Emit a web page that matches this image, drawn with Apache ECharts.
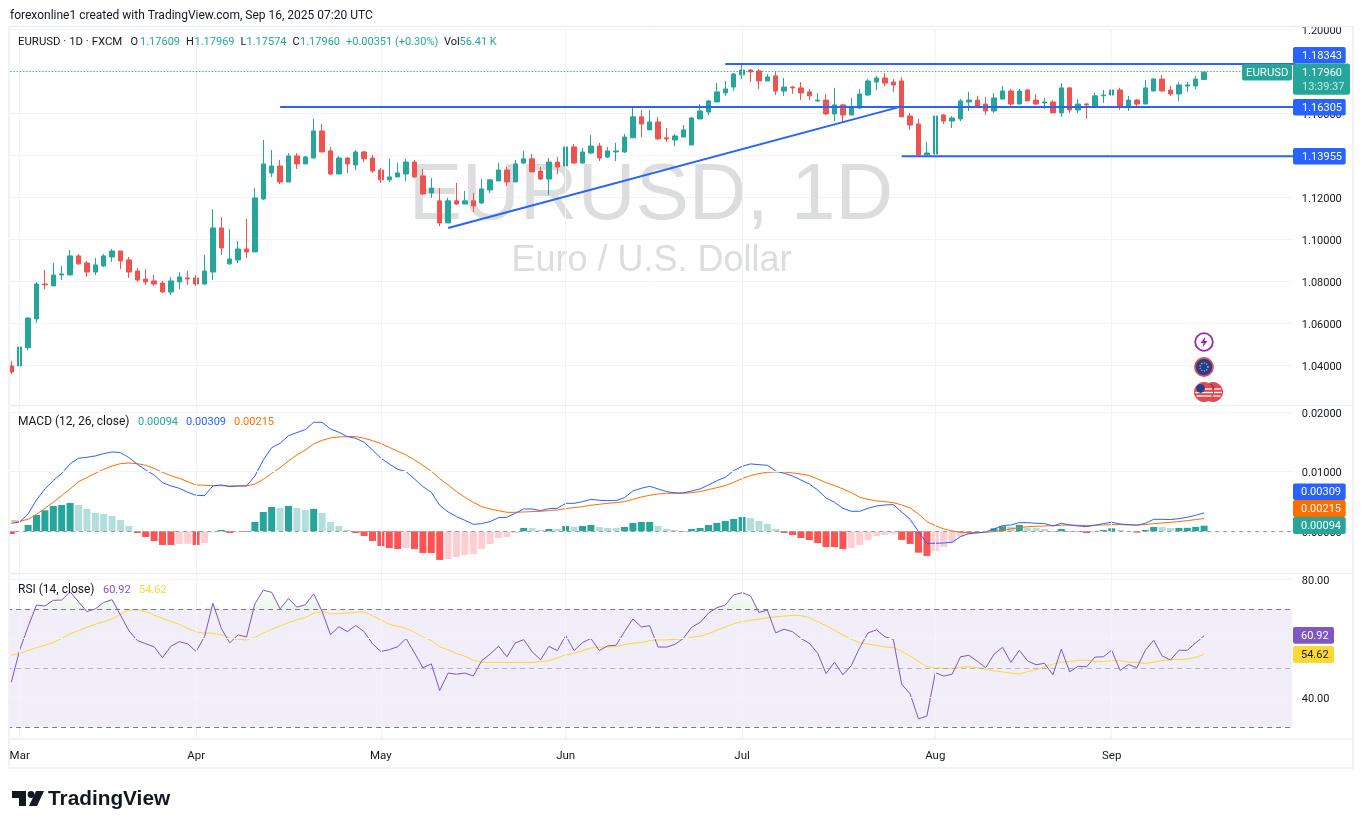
<!DOCTYPE html>
<html><head><meta charset="utf-8">
<style>html,body{margin:0;padding:0;background:#fff}#c{width:1364px;height:829px}</style>
<script src="https://cdn.jsdelivr.net/npm/echarts@6/dist/echarts.min.js"></script>
</head><body><div id="c"></div>
<script>
// open, close, low, high — one row per trading day, 28 Feb 2025 to 16 Sep 2025
const ohlc = [
[1.0397,1.0368,1.0359,1.0421],[1.0397,1.0487,1.0388,1.0506],[1.0483,1.0625,1.0473,1.0630],[1.0621,1.0787,1.0602,1.0797],
[1.0787,1.0783,1.0763,1.0854],[1.0778,1.0830,1.0778,1.0887],[1.0830,1.0835,1.0806,1.0873],[1.0830,1.0921,1.0830,1.0949],
[1.0921,1.0883,1.0878,1.0930],[1.0887,1.0844,1.0821,1.0897],[1.0844,1.0878,1.0830,1.0911],[1.0873,1.0921,1.0868,1.0930],
[1.0916,1.0944,1.0892,1.0954],[1.0944,1.0897,1.0859,1.0944],[1.0902,1.0844,1.0816,1.0916],[1.0849,1.0806,1.0797,1.0863],
[1.0811,1.0797,1.0783,1.0859],[1.0802,1.0787,1.0778,1.0830],[1.0792,1.0749,1.0744,1.0802],[1.0749,1.0802,1.0735,1.0821],
[1.0797,1.0821,1.0763,1.0844],[1.0816,1.0811,1.0783,1.0849],[1.0816,1.0787,1.0778,1.0830],[1.0787,1.0849,1.0783,1.0925],
[1.0844,1.1054,1.0806,1.1144],[1.1054,1.0959,1.0925,1.1106],[1.0883,1.0906,1.0878,1.1049],[1.0902,1.0954,1.0887,1.0992],
[1.0954,1.0940,1.0911,1.1097],[1.0940,1.1197,1.0940,1.1244],[1.1192,1.1359,1.1187,1.1473],[1.1316,1.1349,1.1297,1.1425],
[1.1349,1.1273,1.1263,1.1378],[1.1273,1.1397,1.1273,1.1411],[1.1397,1.1359,1.1335,1.1411],[1.1359,1.1392,1.1359,1.1397],
[1.1387,1.1516,1.1387,1.1573],[1.1516,1.1416,1.1416,1.1549],[1.1421,1.1311,1.1306,1.1440],[1.1311,1.1387,1.1311,1.1397],
[1.1387,1.1359,1.1316,1.1392],[1.1354,1.1416,1.1330,1.1425],[1.1416,1.1383,1.1368,1.1421],[1.1387,1.1325,1.1316,1.1402],
[1.1330,1.1283,1.1268,1.1340],[1.1283,1.1297,1.1273,1.1383],[1.1297,1.1316,1.1297,1.1363],[1.1311,1.1368,1.1278,1.1383],
[1.1368,1.1297,1.1292,1.1378],[1.1302,1.1216,1.1211,1.1335],[1.1221,1.1244,1.1197,1.1292],[1.1183,1.1078,1.1063,1.1244],
[1.1078,1.1183,1.1078,1.1197],[1.1183,1.1168,1.1163,1.1268],[1.1168,1.1183,1.1168,1.1230],[1.1183,1.1159,1.1130,1.1221],
[1.1173,1.1240,1.1168,1.1287],[1.1235,1.1283,1.1221,1.1287],[1.1278,1.1330,1.1278,1.1363],[1.1330,1.1273,1.1254,1.1344],
[1.1273,1.1359,1.1273,1.1378],[1.1363,1.1383,1.1359,1.1421],[1.1383,1.1321,1.1321,1.1406],[1.1325,1.1287,1.1283,1.1344],
[1.1287,1.1368,1.1211,1.1387],[1.1368,1.1344,1.1311,1.1392],[1.1349,1.1440,1.1344,1.1449],[1.1440,1.1363,1.1363,1.1454],
[1.1363,1.1416,1.1359,1.1435],[1.1411,1.1444,1.1406,1.1497],[1.1444,1.1387,1.1373,1.1459],[1.1392,1.1421,1.1387,1.1440],
[1.1416,1.1421,1.1373,1.1459],[1.1416,1.1487,1.1411,1.1502],[1.1483,1.1583,1.1483,1.1630],[1.1583,1.1549,1.1487,1.1616],
[1.1521,1.1559,1.1521,1.1616],[1.1559,1.1478,1.1473,1.1583],[1.1483,1.1478,1.1463,1.1530],[1.1473,1.1492,1.1444,1.1502],
[1.1487,1.1521,1.1487,1.1544],[1.1449,1.1578,1.1449,1.1583],[1.1573,1.1611,1.1573,1.1644],[1.1606,1.1659,1.1592,1.1663],
[1.1654,1.1702,1.1654,1.1744],[1.1697,1.1716,1.1683,1.1754],[1.1725,1.1787,1.1706,1.1792],[1.1783,1.1806,1.1763,1.1834],
[1.1806,1.1797,1.1749,1.1811],[1.1802,1.1754,1.1716,1.1811],[1.1754,1.1773,1.1754,1.1787],[1.1778,1.1706,1.1687,1.1797],
[1.1706,1.1725,1.1683,1.1768],[1.1725,1.1721,1.1692,1.1730],[1.1721,1.1697,1.1663,1.1749],[1.1702,1.1683,1.1663,1.1716],
[1.1659,1.1663,1.1654,1.1697],[1.1663,1.1597,1.1592,1.1692],[1.1597,1.1640,1.1563,1.1721],[1.1640,1.1592,1.1559,1.1644],
[1.1592,1.1625,1.1592,1.1673],[1.1625,1.1692,1.1621,1.1716],[1.1687,1.1754,1.1683,1.1763],[1.1749,1.1768,1.1711,1.1778],
[1.1768,1.1744,1.1730,1.1792],[1.1749,1.1735,1.1702,1.1763],[1.1754,1.1583,1.1583,1.1773],[1.1587,1.1544,1.1521,1.1602],
[1.1549,1.1402,1.1397,1.1573],[1.1402,1.1411,1.1402,1.1463],[1.1406,1.1587,1.1395,1.1597],[1.1592,1.1563,1.1549,1.1597],
[1.1563,1.1578,1.1530,1.1587],[1.1573,1.1659,1.1563,1.1668],[1.1654,1.1663,1.1611,1.1702],[1.1663,1.1635,1.1630,1.1683],
[1.1644,1.1611,1.1592,1.1678],[1.1611,1.1673,1.1602,1.1697],[1.1668,1.1706,1.1668,1.1730],[1.1706,1.1644,1.1630,1.1716],
[1.1644,1.1706,1.1644,1.1716],[1.1711,1.1659,1.1659,1.1716],[1.1663,1.1644,1.1640,1.1692],[1.1649,1.1654,1.1621,1.1673],
[1.1654,1.1602,1.1602,1.1663],[1.1602,1.1721,1.1583,1.1744],[1.1721,1.1616,1.1602,1.1725],[1.1616,1.1644,1.1602,1.1668],
[1.1644,1.1640,1.1573,1.1649],[1.1635,1.1683,1.1630,1.1697],[1.1683,1.1687,1.1649,1.1711],[1.1687,1.1711,1.1683,1.1740],
[1.1711,1.1635,1.1616,1.1721],[1.1630,1.1663,1.1611,1.1683],[1.1663,1.1644,1.1630,1.1668],[1.1644,1.1721,1.1644,1.1759],
[1.1706,1.1763,1.1706,1.1768],[1.1763,1.1706,1.1706,1.1783],[1.1711,1.1692,1.1683,1.1730],[1.1692,1.1735,1.1659,1.1749],
[1.1730,1.1735,1.1702,1.1749],[1.1730,1.1763,1.1716,1.1778],[1.17609,1.17960,1.17574,1.17969]];

// MACD pane values, in units of 0.00001
const macdE5 = [134,156,291,525,710,849,972,1129,1224,1240,1263,1302,1330,1319,1235,1123,1028,944,816,760,721,654,603,598,760,777,749,760,760,927,1196,1402,1475,1603,1654,1704,1827,1827,1715,1659,1587,1559,1492,1363,1224,1129,1039,1000,877,749,654,436,
324,246,184,117,129,162,229,235,302,374,374,346,380,385,469,469,497,536,520,514,514,564,676,721,754,710,665,643,643,676,710,777,849,905,1017,1089,1129,1117,1106,1011,972,927,860,793,693,559,486,385,335,335,385,425,441,
447,324,201,-6,-201,-201,-196,-184,-89,-39,-28,-11,39,95,106,145,145,134,129,89,134,106,89,78,101,129,151,123,112,101,134,201,201,196,212,235,268,309];
const signalE5 = [173,168,201,285,385,486,598,710,832,900,972,1039,1095,1134,1145,1134,1106,1056,989,933,888,832,777,771,765,765,760,760,760,793,872,972,1067,1179,1279,1363,1464,1525,1564,1581,1587,1587,1559,1520,1469,1408,1341,1279,1196,1106,1006,883,
777,665,570,486,413,374,346,318,318,324,330,335,346,358,380,397,413,436,453,469,480,497,536,575,603,626,637,637,637,648,665,698,732,765,821,883,933,967,989,994,994,978,961,933,877,816,765,710,648,570,536,508,497,
480,441,391,291,162,95,39,6,-17,-22,-22,-17,-6,17,39,61,78,84,89,95,101,106,101,95,101,106,112,112,106,106,112,129,140,151,162,179,196,215];
const histE5 = [-45,-6,106,274,352,425,441,475,441,374,307,291,257,190,89,-28,-95,-162,-229,-230,-212,-210,-229,-196,-17,22,-28,-11,-12,156,324,408,391,425,391,358,374,307,156,89,22,-28,-78,-162,-246,-279,-296,-279,-296,-363,-364,-480,
-464,-430,-397,-380,-296,-212,-112,-95,-28,56,55,22,39,38,89,73,89,106,73,56,55,73,140,156,157,89,39,22,-6,39,56,106,140,173,207,240,223,173,123,39,-28,-61,-112,-145,-196,-263,-264,-296,-279,-229,-145,-78,-61,-45,
-145,-212,-358,-413,-330,-263,-201,-89,-50,-22,-6,50,84,73,106,61,56,39,-6,39,-6,-7,-28,6,22,50,22,6,-22,22,73,72,56,57,58,73,94];

const rsi = [45.2,56.1,64.0,71.3,71.0,72.9,73.0,75.8,72.4,69.1,70.0,72.2,73.1,67.9,62.6,59.3,58.2,57.2,53.5,57.4,58.9,58.2,55.6,60.6,71.9,63.4,58.5,61.2,60.5,71.7,76.3,75.6,70.0,73.5,70.6,71.4,75.1,69.1,61.3,64.0,62.3,64.4,62.3,58.2,55.6,56.2,57.2,60.0,55.1,50.1,51.4,42.4,
48.3,47.9,48.3,47.3,52.5,54.7,57.4,53.8,58.5,59.6,55.5,52.8,57.3,55.9,61.0,55.9,58.6,60.0,55.9,57.5,57.7,62.3,66.6,63.9,64.3,57.1,57.1,58.0,60.0,63.8,65.4,68.6,70.4,71.3,74.7,75.5,74.4,68.8,69.6,61.9,63.1,62.3,60.0,58.4,55.0,48.1,52.0,47.7,50.8,56.9,61.9,62.9,60.6,59.7,
44.5,41.3,32.8,33.8,48.4,47.3,47.9,53.8,54.3,52.3,50.1,54.7,57.0,51.9,56.0,52.4,51.1,51.6,47.7,56.4,48.7,50.6,50.4,53.7,53.8,56.0,49.2,51.2,50.1,56.0,59.4,54.1,52.7,56.0,56.0,58.5,60.92];
const rsiMa = [54.3,55.0,55.9,56.9,57.7,58.6,60.0,61.6,62.6,63.8,64.8,65.7,66.6,68.2,69.6,69.7,69.1,67.9,66.8,65.7,64.8,63.4,62.2,61.8,61.8,61.2,60.2,59.7,59.5,60.4,61.8,63.1,64.2,65.4,66.3,67.1,68.5,69.1,68.3,68.4,68.6,68.8,69.0,67.7,66.2,64.8,64.1,63.4,62.1,60.5,59.3,57.2,
56.2,54.9,54.0,52.6,52.0,51.9,51.9,51.9,51.9,51.9,51.9,52.2,52.5,53.5,54.4,55.0,55.8,56.8,57.0,57.1,57.2,57.9,58.4,58.6,59.3,59.5,59.5,59.7,59.8,60.4,60.8,61.6,62.8,63.9,65.0,65.7,66.2,66.5,67.0,67.3,67.6,67.8,67.7,67.1,65.7,64.3,62.8,61.2,59.7,58.6,58.1,57.7,57.1,57.0,
55.6,54.1,52.2,50.5,50.0,49.9,49.8,50.3,50.4,50.1,49.6,49.0,48.7,48.3,48.0,48.8,49.5,50.4,51.3,52.0,52.2,52.6,52.6,52.3,52.2,52.5,52.5,52.0,51.9,51.5,52.0,52.5,52.8,52.9,53.0,53.6,54.62];

const monthStarts = [1,22,44,66,87,110,131];
const monthNames = ['Mar','Apr','May','Jun','Jul','Aug','Sep'];
const emptyDays = 10;
const lastIndex = ohlc.length + emptyDays; // one slot past the axis so the drawn lines run to the pane edge
// drawn lines: [fromIndex, fromPrice, toIndex, toPrice]
const drawnLines = [
  [32,1.16305,lastIndex,1.16305],
  [85,1.18343,lastIndex,1.18343],
  [106,1.13955,lastIndex,1.13955],
  [52,1.1054,106,1.1633]
];
const priceTicks = {min:1.02,max:1.20,interval:0.02};
const lastPrice = 1.1796;
const rsiUpper = 70, rsiMiddle = 50, rsiLower = 30;

const FONT = 'Roboto';
const INK = '#131722', GRID = '#f0f3fa', UP = '#26a69a', DOWN = '#ef5350';
const BLUE = '#2962ff', ORANGE = '#ff6d00', PURPLE = '#7e57c2', YELLOW = '#fdd835';

const categories = ohlc.map((_, i) => 'd' + i);
for (let i = 0; i < emptyDays; i++) categories.push('e' + i);
const labelOf = {};
monthStarts.forEach((s, k) => labelOf['d' + s] = monthNames[k]);
const monthLines = monthStarts.map(s => ({xAxis: 'd' + s}));

const histColors = histE5.map((v, i) => {
  const prev = i ? histE5[i - 1] : 0;
  if (v >= 0) return v > prev ? '#26a69a' : '#b2dfdb';
  return v < prev ? '#ff5252' : '#ffcdd2';
});

const GL = 7.1, STEP = 8.4, W = STEP * categories.length;
const grids = [
  {left: GL, width: W, top: 29.3, height: 378},
  {left: GL, width: W, top: 405.7, height: 167.6},
  {left: GL, width: W, top: 573.4, height: 165.6}
];
const xAxes = [0, 1, 2].map(g => ({
  type: 'category', gridIndex: g, data: categories, boundaryGap: true,
  axisLine: {show: false}, axisTick: {show: false}, splitLine: {show: false},
  axisLabel: g === 2 ? {
    show: true, interval: (i, n) => n in labelOf, formatter: n => labelOf[n] || '',
    color: INK, fontFamily: FONT, fontSize: 11.5, margin: 11
  } : {show: false}
}));
const yLabel = (d) => ({color: INK, fontFamily: FONT, fontSize: 11, margin: 9.5, verticalAlign: 'top', lineHeight: 4, formatter: v => v.toFixed(d)});
const yAxes = [
  {type: 'value', gridIndex: 0, position: 'right', min: priceTicks.min, max: priceTicks.max, interval: priceTicks.interval,
   axisLine: {show: false}, axisTick: {show: false}, splitLine: {show: true, showMinLine: false, lineStyle: {color: GRID, width: 1}},
   axisLabel: Object.assign(yLabel(5), {showMinLabel: false})},
  {type: 'value', gridIndex: 1, position: 'right', min: -0.00704, max: 0.02105,
   axisLine: {show: false}, axisTick: {show: false}, splitLine: {show: false},
   axisLabel: Object.assign(yLabel(5), {customValues: [0, 0.01, 0.02]})},
  {type: 'value', gridIndex: 2, position: 'right', min: 26, max: 82,
   axisLine: {show: false}, axisTick: {show: false}, splitLine: {show: false},
   axisLabel: Object.assign(yLabel(2), {customValues: [40, 80]})}
];
const ml = (data, lineStyle) => ({silent: true, symbol: 'none', label: {show: false}, animation: false, data, lineStyle});
const gl = {color: GRID, width: 1, type: 'solid', opacity: 1};

const series = [
  {type: 'line', xAxisIndex: 0, yAxisIndex: 0, data: [], z: 1, markLine: ml(monthLines, gl)},
  {type: 'line', xAxisIndex: 1, yAxisIndex: 1, data: [], z: 1,
   markLine: ml(monthLines.concat([{yAxis: 0.01}, {yAxis: 0.02}]), gl)},
  {type: 'line', xAxisIndex: 2, yAxisIndex: 2, data: [], z: 1,
   markLine: ml(monthLines.concat([{yAxis: 40}, {yAxis: 60}, {yAxis: 80}]), gl)},
  {type: 'candlestick', xAxisIndex: 0, yAxisIndex: 0, data: ohlc, barWidth: 5, z: 3,
   itemStyle: {color: UP, color0: DOWN, borderColor: UP, borderColor0: DOWN, borderWidth: 1},
   markLine: ml([{yAxis: lastPrice}], {color: '#26a69a', width: 1.2, type: [1.2, 2], opacity: 1})},
  ...drawnLines.map(l => ({type: 'line', xAxisIndex: 0, yAxisIndex: 0, z: 5, showSymbol: false, symbol: 'none', silent: true,
    data: [[l[0], l[1]], [l[2], l[3]]], lineStyle: {color: BLUE, width: 2}})),
  {type: 'bar', xAxisIndex: 1, yAxisIndex: 1, barWidth: 7, z: 2,
   data: histE5.map((v, i) => ({value: v / 1e5, itemStyle: {color: histColors[i]}})),
   markLine: ml([{yAxis: 0}], {color: '#9a9ca3', width: 1, type: [4, 4], opacity: 1})},
  {type: 'line', xAxisIndex: 1, yAxisIndex: 1, z: 3, showSymbol: false, symbol: 'none', silent: true,
   data: signalE5.map(v => v / 1e5), lineStyle: {color: ORANGE, width: 1}},
  {type: 'line', xAxisIndex: 1, yAxisIndex: 1, z: 4, showSymbol: false, symbol: 'none', silent: true,
   data: macdE5.map(v => v / 1e5), lineStyle: {color: BLUE, width: 1}},
  {type: 'line', xAxisIndex: 2, yAxisIndex: 2, data: [], z: 0, silent: true,
   markArea: {silent: true, itemStyle: {color: 'rgba(126,87,194,0.1)'}, data: [[{yAxis: rsiUpper}, {yAxis: rsiLower}]]},
   markLine: ml([{yAxis: rsiUpper}, {yAxis: rsiLower}], {color: '#787b86', width: 1, type: [5, 4], opacity: 1})},
  {type: 'line', xAxisIndex: 2, yAxisIndex: 2, data: [], z: 1, silent: true,
   markLine: ml([{yAxis: rsiMiddle}], {color: '#787b86', width: 1, type: [5, 4], opacity: 0.5})},
  // soft green fill where RSI rises above the upper band
  {type: 'line', xAxisIndex: 2, yAxisIndex: 2, z: 2, showSymbol: false, symbol: 'none', silent: true,
   data: rsi.map(v => Math.max(v, rsiUpper)), lineStyle: {width: 0},
   areaStyle: {origin: rsiUpper, color: new echarts.graphic.LinearGradient(0, 0, 0, 1, [
     {offset: 0, color: 'rgba(76,175,80,0.02)'}, {offset: 1, color: 'rgba(76,175,80,0.16)'}])}},
  {type: 'line', xAxisIndex: 2, yAxisIndex: 2, z: 3, showSymbol: false, symbol: 'none', silent: true,
   data: rsiMa, lineStyle: {color: YELLOW, width: 1}},
  {type: 'line', xAxisIndex: 2, yAxisIndex: 2, z: 4, showSymbol: false, symbol: 'none', silent: true,
   data: rsi, lineStyle: {color: PURPLE, width: 1}}
];

const txt = (x, y, text, fill, o) => ({type: 'text', x, y: y + 0.8, z: 60, silent: true,
  style: Object.assign({text, fill, font: `11px ${FONT}`, textAlign: 'left', textVerticalAlign: 'middle'}, o || {})});
const big = {font: `12px ${FONT}`};
const mid = {font: `11.4px ${FONT}`};
const tag = (x, y, w, h, fill) => ({type: 'rect', x, y, z: 55, silent: true, shape: {x: 0, y: 0, width: w, height: h, r: 2}, style: {fill}});
const hline = (y) => ({type: 'line', z: 45, silent: true, shape: {x1: 10, y1: y, x2: 1353, y2: y}, style: {stroke: '#eceef3', lineWidth: 1.5}});

const graphics = [
  {type: 'text', x: 651, y: 197, z: 1, silent: true, style: {text: 'EURUSD, 1D', fill: '#dcddde', font: '80px "Liberation Sans"', textAlign: 'center', textVerticalAlign: 'middle'}},
  {type: 'text', x: 651.5, y: 261, z: 1, silent: true, style: {text: 'Euro / U.S. Dollar', fill: '#dcddde', font: '36px "Liberation Sans"', textAlign: 'center', textVerticalAlign: 'middle'}},
  // margins outside the panes
  {type: 'rect', z: 40, silent: true, shape: {x: 0, y: 0, width: 9.5, height: 829}, style: {fill: '#fff'}},
  {type: 'rect', z: 41, silent: true, shape: {x: 9, y: 26.5, width: 1344, height: 741.5}, style: {fill: 'none', stroke: '#eceef3', lineWidth: 1.5}},
  hline(405.5), hline(573.5), hline(739),
  // header
  txt(10, 15, 'forexonline1 created with TradingView.com, Sep 16, 2025 07:20 UTC', INK, big),
  txt(18, 41, 'EURUSD · 1D · FXCM', INK, mid),
  txt(130.5, 41, 'O', INK), txt(140, 41, '1.17609', UP),
  txt(186, 41, 'H', INK), txt(194.5, 41, '1.17969', UP),
  txt(240.5, 41, 'L', INK), txt(246.5, 41, '1.17574', UP),
  txt(292.5, 41, 'C', INK), txt(300, 41, '1.17960', UP),
  txt(346, 41, '+0.00351 (+0.30%)', UP),
  txt(444, 41, 'Vol', INK), txt(459.5, 41, '56.41 K', UP),
  // pane legends
  txt(18, 421, 'MACD (12, 26, close)', INK, big),
  txt(138, 421, '0.00094', UP), txt(186, 421, '0.00309', BLUE), txt(234, 421, '0.00215', ORANGE),
  txt(18, 589, 'RSI (14, close)', INK, big),
  txt(103, 589, '60.92', PURPLE), txt(139, 589, '54.62', YELLOW),
  // price tags
  tag(1293, 47, 52.7, 16.4, BLUE), txt(1302, 55.3, '1.18343', '#fff'),
  tag(1293, 63.4, 57, 31.4, UP), txt(1302, 72.5, '1.17960', '#fff'), txt(1302, 86.3, '13:39:37', '#c5e8e3'),
  tag(1242, 64, 50, 16.4, UP), txt(1246, 72.2, 'EURUSD', '#fff', mid),
  tag(1293, 99, 52.7, 16.6, BLUE), txt(1302, 107.4, '1.16305', '#fff'),
  tag(1293, 148, 52.7, 16.6, BLUE), txt(1302, 156.4, '1.13955', '#fff'),
  tag(1293, 483.4, 52.7, 16.6, BLUE), txt(1301, 491.7, '0.00309', '#fff'),
  tag(1293, 500, 52.7, 17, ORANGE), txt(1301, 508.5, '0.00215', '#fff'),
  tag(1293, 517, 52.7, 17, UP), txt(1301, 525.5, '0.00094', '#fff'),
  tag(1293, 627, 41, 16.7, PURPLE), txt(1301, 635.4, '60.92', '#fff'),
  tag(1293, 646, 41, 17, YELLOW), txt(1301, 654.5, '54.62', INK),
  // event icons
  {type: 'circle', z: 50, silent: true, shape: {cx: 1204, cy: 342, r: 8.8}, style: {fill: '#fff', stroke: '#9c27b0', lineWidth: 1.8}},
  {type: 'polygon', z: 51, silent: true, shape: {points: [[1205.5, 336.5], [1200.5, 343], [1203.6, 343], [1202.5, 347.5], [1207.5, 341], [1204.4, 341]]}, style: {fill: '#9c27b0'}},
  {type: 'circle', z: 50, silent: true, shape: {cx: 1204, cy: 367, r: 9}, style: {fill: '#1f3f94', stroke: '#e5484d', lineWidth: 1.8}},
  {type: 'circle', z: 51, silent: true, shape: {cx: 1204, cy: 367, r: 4}, style: {fill: 'none', stroke: '#ffd54f', lineWidth: 1.2, lineDash: [1, 1.6]}},
  ...[1213, 1204].flatMap((cx, k) => [
    {type: 'circle', z: 50 + k * 2, silent: true, shape: {cx, cy: 392, r: 9.6}, style: {fill: '#e5484d', stroke: '#e5484d', lineWidth: 1}},
    {type: 'line', z: 50 + k * 2, silent: true, shape: {x1: cx - 8, y1: 389, x2: cx + 8, y2: 389}, style: {stroke: '#fff', lineWidth: 1.3}},
    {type: 'line', z: 50 + k * 2, silent: true, shape: {x1: cx - 9, y1: 392.5, x2: cx + 9, y2: 392.5}, style: {stroke: '#fff', lineWidth: 1.3}},
    {type: 'line', z: 50 + k * 2, silent: true, shape: {x1: cx - 7.5, y1: 396, x2: cx + 7.5, y2: 396}, style: {stroke: '#fff', lineWidth: 1.3}},
    {type: 'circle', z: 50 + k * 2, silent: true, shape: {cx: cx - 3.5, cy: 388.5, r: 4.4}, style: {fill: '#23408e'}}
  ]),
  // footer logo
  {type: 'polygon', z: 60, silent: true, shape: {points: [[12, 791], [26, 791], [26, 806], [19, 806], [19, 798], [12, 798]]}, style: {fill: '#131722'}},
  {type: 'circle', z: 60, silent: true, shape: {cx: 31, cy: 794.5, r: 3.4}, style: {fill: '#131722'}},
  {type: 'polygon', z: 60, silent: true, shape: {points: [[36, 791], [44, 791], [37, 806], [29, 806]]}, style: {fill: '#131722'}},
  txt(48, 798.5, 'TradingView', '#131722', {font: 'bold 20.8px "Liberation Sans"'})
];

const chart = echarts.init(document.getElementById('c'), null, {renderer: 'canvas'});
chart.setOption({
  animation: false, backgroundColor: '#fff',
  grid: grids, xAxis: xAxes, yAxis: yAxes, series,
  graphic: {elements: graphics}
});
</script></body></html>
